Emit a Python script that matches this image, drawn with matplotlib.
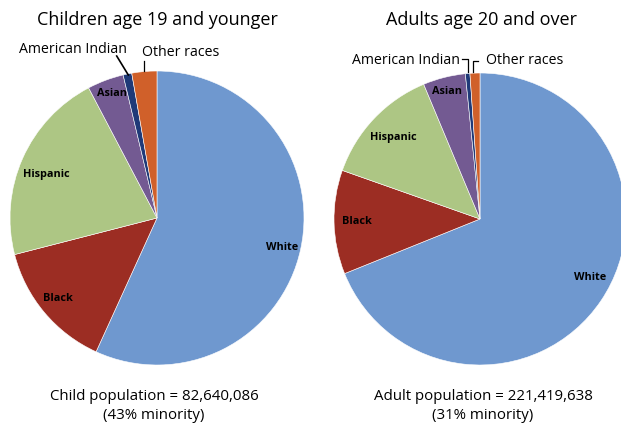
import matplotlib
matplotlib.use("Agg")
import matplotlib.pyplot as plt
from matplotlib.lines import Line2D

categories = ["White", "Black", "Hispanic", "Asian", "American Indian", "Other races"]
child_shares = [56.8, 14.2, 21.3, 4.0, 0.95, 2.75]
adult_shares = [68.9, 11.5, 13.3, 4.7, 0.5, 1.1]
colors = ["#6F98CF", "#9C2D23", "#ADC684", "#735A92", "#1F3A78", "#D0602A"]

titles = ["Children age 19 and younger", "Adults age 20 and over"]
footers = ["Child population = 82,640,086\n(43% minority)",
           "Adult population = 221,419,638\n(31% minority)"]

W, H = 621, 423
FONT = "Open Sans"
fig = plt.figure(figsize=(W / 100, H / 100), dpi=100)


def fx(x):
    return x / W


def fy(y):
    return 1 - y / H


def pie_axes(cx, cy, r, shares):
    ax = fig.add_axes([(cx - r) / W, (H - cy - r) / H, 2 * r / W, 2 * r / H])
    ax.pie(shares, colors=colors, startangle=90, counterclock=False, radius=1,
           wedgeprops=dict(edgecolor="white", linewidth=0.4))
    ax.set_xlim(-1, 1)
    ax.set_ylim(-1, 1)
    ax.set_aspect("equal")
    ax.axis("off")
    return ax


# Left pie
axL = pie_axes(157, 218, 147, child_shares)
inner_left = {"White": (0.85, -0.204), "Black": (-0.673, -0.551),
              "Hispanic": (-0.755, 0.299), "Asian": (-0.306, 0.85)}
for k, (x, y) in inner_left.items():
    axL.text(x, y, k, ha="center", va="center", fontsize=7.8, fontweight="bold",
             family=FONT, color="black")

# Right pie
axR = pie_axes(480, 219, 146, adult_shares)
inner_right = {"White": (0.753, -0.404), "Black": (-0.842, -0.014),
               "Hispanic": (-0.596, 0.555), "Asian": (-0.226, 0.87)}
for k, (x, y) in inner_right.items():
    axR.text(x, y, k, ha="center", va="center", fontsize=7.8, fontweight="bold",
             family=FONT, color="black")

# Titles
fig.text(fx(157), fy(20), titles[0], ha="center", va="center", fontsize=13, family=FONT)
fig.text(fx(481), fy(20), titles[1], ha="center", va="center", fontsize=13, family=FONT)

# Footers
fig.text(fx(154), fy(406), footers[0], ha="center", va="center", fontsize=10.8,
         family=FONT, linespacing=1.3)
fig.text(fx(483), fy(406), footers[1], ha="center", va="center", fontsize=10.8,
         family=FONT, linespacing=1.3)

# Outer labels, left
fig.text(fx(73), fy(49), "American Indian", ha="center", va="center", fontsize=10.2, family=FONT)
fig.text(fx(181), fy(52), "Other races", ha="center", va="center", fontsize=10.2, family=FONT)
fig.add_artist(Line2D([fx(116.7), fx(128.3)], [fy(56), fy(75)], color="black", lw=1.2))
fig.add_artist(Line2D([fx(144), fx(144)], [fy(61.5), fy(71.5)], color="black", lw=0.9))

# Outer labels, right
fig.text(fx(406), fy(60), "American Indian", ha="center", va="center", fontsize=10.2, family=FONT)
fig.text(fx(525), fy(60), "Other races", ha="center", va="center", fontsize=10.2, family=FONT)
fig.add_artist(Line2D([fx(461.5), fx(467.5), fx(467.5)], [fy(59), fy(59), fy(72)],
                      color="black", lw=0.9))
fig.add_artist(Line2D([fx(477.5), fx(473.3), fx(473.3)], [fy(61), fy(61), fy(72)],
                      color="black", lw=0.9))

fig.savefig("out.png", dpi=100)
